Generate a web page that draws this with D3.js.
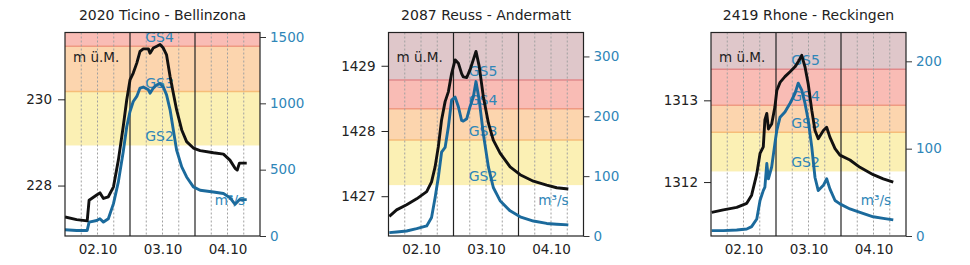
<!DOCTYPE html>
<html>
<head>
<meta charset="utf-8">
<script src="https://cdn.jsdelivr.net/npm/d3@7"></script>
<style>
  body { margin: 0; background: #fff; }
  text { font-family: "DejaVu Sans", sans-serif; }
</style>
</head>
<body>
<script>
var width = 970;
var height = 265;

// station titles and day labels (labels sit at noon)
var titles = ["2020 Ticino - Bellinzona", "2087 Reuss - Andermatt", "2419 Rhone - Reckingen"];
var dayHours = [12, 36, 60];
var dayLabels = ["02.10", "03.10", "04.10"];
var gsNames = ["GS2", "GS3", "GS4", "GS5"];

// hours since 02.10 00:00, level (m ü.M.), discharge (m3/s)
var hours1 = [0, 4.3, 8.2, 8.9, 11.7, 12.9, 14.2, 16.0, 17.9, 19.7, 21.5, 22.8, 24.0, 25.2, 26.5, 27.7, 28.9, 30.8, 31.4, 32.6, 33.9, 35.1, 36.3, 37.5, 38.8, 40.0, 41.2, 43.1, 44.9, 47.4, 49.9, 54.8, 58.5, 60.9, 62.8, 63.6, 64.4, 67.1];
var level1 = [227.27, 227.21, 227.18, 227.66, 227.78, 227.83, 227.70, 227.74, 227.97, 228.59, 229.37, 229.99, 230.45, 230.61, 230.84, 231.11, 231.17, 231.17, 231.07, 231.19, 231.23, 231.27, 231.19, 231.03, 230.53, 230.14, 229.76, 229.29, 229.02, 228.87, 228.81, 228.76, 228.73, 228.59, 228.40, 228.36, 228.52, 228.52];
var flow1 = [47, 42, 42, 105, 117, 130, 105, 130, 244, 408, 635, 824, 938, 1014, 1052, 1115, 1123, 1102, 1077, 1115, 1140, 1148, 1123, 1064, 951, 799, 648, 521, 445, 370, 345, 332, 320, 289, 239, 256, 274, 274];

var hours2 = [0.3, 3.0, 6.7, 10.4, 14.1, 15.9, 17.2, 18.4, 19.6, 20.9, 22.1, 23.3, 24.6, 25.8, 27.0, 27.6, 28.9, 30.1, 31.3, 32.3, 33.5, 35.0, 36.9, 38.7, 41.2, 44.9, 48.6, 53.5, 58.4, 62.1, 66.4];
var level2 = [1426.69, 1426.79, 1426.87, 1426.96, 1427.07, 1427.22, 1427.45, 1427.76, 1428.17, 1428.45, 1428.60, 1428.88, 1429.09, 1429.04, 1428.88, 1428.83, 1428.82, 1428.94, 1429.09, 1429.22, 1428.99, 1428.53, 1428.12, 1427.86, 1427.66, 1427.45, 1427.33, 1427.23, 1427.17, 1427.13, 1427.11];
var flow2 = [5.6, 6.7, 8.4, 12.3, 16.8, 30.8, 64, 98, 140, 148, 182, 227, 232, 216, 193, 192, 196, 216, 232, 258, 227, 171, 115, 81, 59, 42, 32, 25, 21, 19.7, 18.5];

var hours3 = [0.25, 4.55, 9.5, 13.2, 15.0, 16.9, 18.1, 19.3, 19.9, 20.6, 21.2, 22.4, 23.6, 24.3, 25.5, 27.3, 29.2, 31.0, 32.2, 33.5, 34.7, 35.9, 37.2, 38.4, 39.6, 41.5, 42.7, 43.9, 45.8, 47.6, 51.3, 55.0, 59.9, 63.6, 67.3];
var level3 = [1311.63, 1311.66, 1311.69, 1311.74, 1311.84, 1312.10, 1312.35, 1312.43, 1312.76, 1312.84, 1312.65, 1312.71, 1312.92, 1313.12, 1313.22, 1313.29, 1313.35, 1313.41, 1313.47, 1313.55, 1313.41, 1313.20, 1312.88, 1312.63, 1312.53, 1312.63, 1312.67, 1312.55, 1312.41, 1312.33, 1312.27, 1312.18, 1312.09, 1312.04, 1312.00];
var flow3 = [6.1, 6.1, 6.9, 8, 10.7, 19.5, 40.6, 52, 56, 83, 65.5, 79, 106, 121, 136, 142, 152, 163, 175, 167, 152, 132.5, 102, 67, 52, 58, 65.5, 54, 40.6, 36.8, 31, 27, 22, 20.2, 18.4];

// danger level thresholds (GS2, GS3, GS4, GS5) in m ü.M.
var gs1 = [228.93, 230.18, 231.23];
var gs2 = [1427.17, 1427.86, 1428.34, 1428.78];
var gs3 = [1312.13, 1312.61, 1312.94, 1313.38];

// axis domains and ticks
var levelDomain1 = [226.83, 231.55], flowDomain1 = [0, 1534];
var levelDomain2 = [1426.39, 1429.51], flowDomain2 = [0, 340];
var levelDomain3 = [1311.34, 1313.83], flowDomain3 = [0, 233];
var levelTicks1 = [228, 230], flowTicks1 = [0, 500, 1000, 1500];
var levelTicks2 = [1427, 1428, 1429], flowTicks2 = [0, 100, 200, 300];
var levelTicks3 = [1312, 1313], flowTicks3 = [0, 100, 200];

var panels = [
  {hours: hours1, level: level1, flow: flow1, gs: gs1, ld: levelDomain1, fd: flowDomain1, lt: levelTicks1, ft: flowTicks1},
  {hours: hours2, level: level2, flow: flow2, gs: gs2, ld: levelDomain2, fd: flowDomain2, lt: levelTicks2, ft: flowTicks2},
  {hours: hours3, level: level3, flow: flow3, gs: gs3, ld: levelDomain3, fd: flowDomain3, lt: levelTicks3, ft: flowTicks3}
];

var bandColors = ["#fbf0b4", "#fcd5ae", "#f9bcb5", "#dfc7ca"];
var lineColors = [null, "#f6bd78", "#ef9a82", "#e2898a"];
var blue = "#1b6a9c";
var blueText = "#2f86b8";

var pw = 195, ph = 203.5, plotTop = 32.5;
var lefts = [65, 388.5, 711];

var svg = d3.select("body")
  .append("svg")
  .attr("width", width)
  .attr("height", height);

panels.forEach(function(p, i) {
  var g = svg.append("g")
    .attr("transform", "translate(" + lefts[i] + "," + plotTop + ")");

  var x = d3.scaleLinear().domain([0, 72]).range([0, pw]);
  var yL = d3.scaleLinear().domain(p.ld).range([ph, 0]);
  var yQ = d3.scaleLinear().domain(p.fd).range([ph, 0]);

  g.append("clipPath").attr("id", "clip" + i)
    .append("rect").attr("width", pw).attr("height", ph);

  var inner = g.append("g").attr("clip-path", "url(#clip" + i + ")");

  // bands
  p.gs.forEach(function(v, k) {
    var yTop = k + 1 < p.gs.length ? yL(p.gs[k + 1]) : 0;
    inner.append("rect")
      .attr("x", 0).attr("width", pw)
      .attr("y", yTop).attr("height", yL(v) - yTop)
      .attr("fill", bandColors[k]);
  });
  p.gs.forEach(function(v, k) {
    if (lineColors[k]) {
      inner.append("line")
        .attr("x1", 0).attr("x2", pw)
        .attr("y1", yL(v)).attr("y2", yL(v))
        .attr("stroke", lineColors[k]).attr("stroke-width", 1.5);
    }
  });

  // grid every 6 hours, midnight solid
  d3.range(6, 72, 6).forEach(function(h) {
    var midnight = h % 24 === 0;
    inner.append("line")
      .attr("x1", x(h)).attr("x2", x(h))
      .attr("y1", 0).attr("y2", ph)
      .attr("stroke", midnight ? "#222" : "#a0a0a0")
      .attr("stroke-width", midnight ? 1.2 : 1)
      .attr("stroke-dasharray", midnight ? null : "2,2");
  });

  // GS labels
  p.gs.forEach(function(v, k) {
    inner.append("text")
      .attr("x", pw / 2 - 3)
      .attr("y", yL(v) - 4)
      .attr("text-anchor", "middle")
      .attr("font-size", "14px")
      .attr("fill", blueText)
      .text(gsNames[k]);
  });

  inner.append("text")
    .attr("x", 8).attr("y", 29.5)
    .attr("font-size", "13.5px")
    .attr("fill", "#222")
    .text("m ü.M.");

  inner.append("text")
    .attr("x", pw - 15).attr("y", 172.5)
    .attr("text-anchor", "end")
    .attr("font-size", "13.5px")
    .attr("fill", blueText)
    .text("m³/s");

  // series
  var idx = d3.range(p.hours.length);
  inner.append("path")
    .datum(idx)
    .attr("fill", "none")
    .attr("stroke", blue)
    .attr("stroke-width", 2.9)
    .attr("stroke-linejoin", "round")
    .attr("d", d3.line().x(function(j) { return x(p.hours[j]); }).y(function(j) { return yQ(p.flow[j]); }));

  inner.append("path")
    .datum(idx)
    .attr("fill", "none")
    .attr("stroke", "#111")
    .attr("stroke-width", 2.9)
    .attr("stroke-linejoin", "round")
    .attr("d", d3.line().x(function(j) { return x(p.hours[j]); }).y(function(j) { return yL(p.level[j]); }));

  // frame
  g.append("rect")
    .attr("width", pw).attr("height", ph)
    .attr("fill", "none")
    .attr("stroke", "#222").attr("stroke-width", 1.2);

  // axes
  var left = g.append("g")
    .call(d3.axisLeft(yL).tickValues(p.lt).tickSizeOuter(0).tickSize(7).tickPadding(6).tickFormat(d3.format("d")));
  left.select(".domain").remove();
  left.selectAll("text").attr("font-size", "13.5px").attr("font-family", "DejaVu Sans").attr("fill", "#222");
  left.selectAll("line").attr("stroke", "#222");

  var right = g.append("g")
    .attr("transform", "translate(" + pw + ",0)")
    .call(d3.axisRight(yQ).tickValues(p.ft).tickSizeOuter(0).tickSize(6).tickPadding(4).tickFormat(d3.format("d")));
  right.select(".domain").remove();
  right.selectAll("text").attr("font-size", "13.5px").attr("font-family", "DejaVu Sans").attr("fill", blueText);
  right.selectAll("line").attr("stroke", "#333");

  var bottom = g.append("g")
    .attr("transform", "translate(0," + ph + ")")
    .call(d3.axisBottom(x).tickValues(dayHours).tickSize(0).tickPadding(8).tickFormat(function(d, k) { return dayLabels[k]; }));
  bottom.select(".domain").remove();
  bottom.selectAll("text").attr("font-size", "13.5px").attr("font-family", "DejaVu Sans").attr("fill", "#222");

  svg.append("text")
    .attr("x", lefts[i] + pw / 2)
    .attr("y", 20)
    .attr("text-anchor", "middle")
    .attr("font-size", "14px")
    .attr("fill", "#222")
    .text(titles[i]);
});
</script>
</body>
</html>
